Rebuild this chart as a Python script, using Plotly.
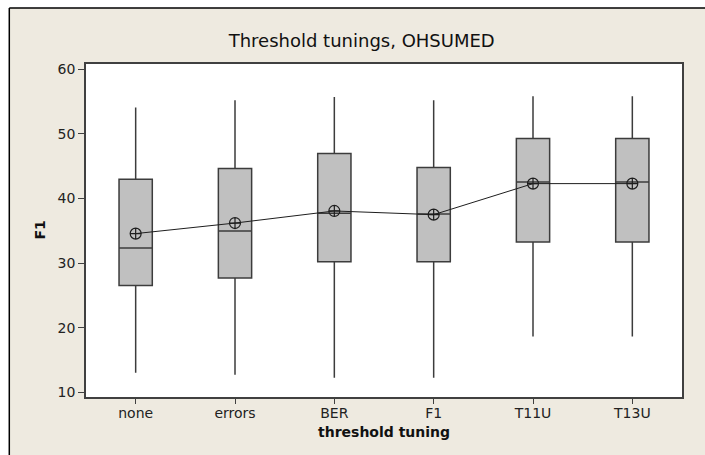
import plotly.graph_objects as go

categories = ["none", "errors", "BER", "F1", "T11U", "T13U"]
lower_whisker = [13.05, 12.74, 12.27, 12.27, 18.67, 18.67]
q1_values = [26.56, 27.7, 30.23, 30.23, 33.27, 33.27]
median_values = [32.34, 34.97, 37.7, 37.6, 42.56, 42.56]
q3_values = [42.97, 44.63, 46.95, 44.78, 49.27, 49.27]
upper_whisker = [54.07, 55.2, 55.7, 55.2, 55.8, 55.8]
mean_values = [34.57, 36.2, 38.07, 37.5, 42.3, 42.3]
y_ticks = [10, 20, 30, 40, 50, 60]

W, H = 705, 455
L, R, T, B = 86, 23, 64, 58
PW, PH = W - L - R, H - T - B

def px(x):
    return (x - L) / PW

def py(y):
    return (H - B - y) / PH

BG = "#EEEAE0"
FONT = "DejaVu Sans"

fig = go.Figure()
fig.add_trace(go.Box(
    x=categories,
    q1=q1_values, median=median_values, q3=q3_values,
    lowerfence=lower_whisker, upperfence=upper_whisker,
    fillcolor="#C0C0C0",
    line=dict(color="#3C3C3C", width=1.5),
    whiskerwidth=0,
    width=0.335,
    boxpoints=False,
    showlegend=False,
    hoverinfo="skip",
))
fig.add_trace(go.Scatter(
    x=categories, y=mean_values,
    mode="lines+markers",
    line=dict(color="#1E1E1E", width=1),
    marker=dict(symbol="circle-cross-open", size=11,
                color="#1E1E1E", line=dict(width=1.2, color="#1E1E1E")),
    showlegend=False,
    hoverinfo="skip",
))

shapes = [
    dict(type="rect", xref="paper", yref="paper",
         x0=px(-5), x1=px(9.3), y0=py(-5), y1=py(H + 5),
         fillcolor="white", line=dict(width=0), layer="above"),
    dict(type="rect", xref="paper", yref="paper",
         x0=px(-5), x1=px(W + 5), y0=py(-5), y1=py(8),
         fillcolor="white", line=dict(width=0), layer="above"),
    dict(type="line", xref="paper", yref="paper",
         x0=px(9.3), x1=px(9.3), y0=py(8), y1=py(H + 5),
         line=dict(color="black", width=1.5), layer="above"),
    dict(type="line", xref="paper", yref="paper",
         x0=px(9.3), x1=px(W + 5), y0=py(8), y1=py(8),
         line=dict(color="black", width=1.5), layer="above"),
]

fig.update_layout(
    width=W, height=H,
    margin=dict(l=L, r=R, t=T, b=B),
    paper_bgcolor=BG,
    plot_bgcolor="white",
    font=dict(family=FONT, size=14, color="#222222"),
    title=dict(text="Threshold tunings, OHSUMED",
               x=px(361.7), xref="paper", xanchor="center",
               y=1 - 40.7 / H, yanchor="middle",
               font=dict(family=FONT, size=18, color="#111111")),
    shapes=shapes,
    annotations=[
        dict(text="<b>threshold tuning</b>", xref="paper", yref="paper",
             x=0.5, y=py(432), xanchor="center", yanchor="middle",
             showarrow=False, font=dict(family=FONT, size=14, color="#111111")),
        dict(text="<b>F1</b>", xref="paper", yref="paper",
             x=px(39), y=0.5, xanchor="center", yanchor="middle",
             textangle=-90, showarrow=False,
             font=dict(family=FONT, size=14, color="#111111")),
    ],
    xaxis=dict(
        type="category", range=[-0.5, 5.5],
        showline=True, mirror=True, linecolor="#404040", linewidth=1.5,
        ticks="outside", ticklen=5, tickcolor="#404040", tickwidth=1,
        ticklabelstandoff=-3,
        showgrid=False, zeroline=False,
        tickfont=dict(family=FONT, size=14, color="#222222"),
    ),
    yaxis=dict(
        range=[9.3, 60.8], tickvals=y_ticks,
        showline=True, mirror=True, linecolor="#404040", linewidth=1.5,
        ticks="outside", ticklen=6, tickcolor="#404040", tickwidth=1,
        showgrid=False, zeroline=False,
        tickfont=dict(family=FONT, size=14, color="#222222"),
    ),
)

fig.write_html("out.html")
